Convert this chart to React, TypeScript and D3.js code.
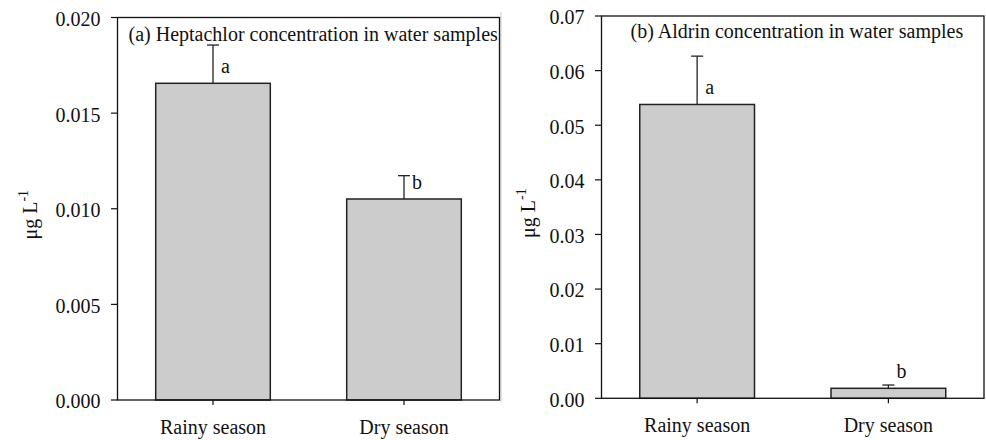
import React from 'react';
import * as d3 from 'd3';

// seasons on the x axis, shared by both panels
const seasons = ['Rainy season', 'Dry season'];

// (a) heptachlor, ug/L
const heptachlorMean = [0.01656, 0.01051];
const heptachlorErr = [0.00200, 0.00122];
const heptachlorLetters = ['a', 'b'];
const heptachlorTicks = [0, 0.005, 0.01, 0.015, 0.02];

// (b) aldrin, ug/L
const aldrinMean = [0.0538, 0.00183];
const aldrinErr = [0.00885, 0.0006];
const aldrinLetters = ['a', 'b'];
const aldrinTicks = [0, 0.01, 0.02, 0.03, 0.04, 0.05, 0.06, 0.07];

const FONT = '"Liberation Serif", "Times New Roman", serif';
const INK = '#111';

type PanelProps = {
  left: number;
  right: number;
  top: number;
  bottom: number;
  title: string;
  titleDx: number;
  titleY: number;
  means: number[];
  errs: number[];
  letters: string[];
  ticks: number[];
  fmt: string;
  yLabelX: number;
};

function Panel(p: PanelProps) {
  const x = d3.scaleBand<string>()
    .domain(seasons)
    .range([p.left, p.right])
    .paddingInner(0.4)
    .paddingOuter(0.2);

  const y = d3.scaleLinear()
    .domain([0, p.ticks[p.ticks.length - 1]])
    .range([p.bottom, p.top]);

  const fmt = d3.format(p.fmt);
  const bw = x.bandwidth();
  const midY = (p.top + p.bottom) / 2 + 6;

  return (
    <g fontFamily={FONT} fill={INK}>
      {/* bars */}
      {seasons.map((s, i) => (
        <rect
          key={s}
          x={x(s)}
          y={y(p.means[i])}
          width={bw}
          height={y(0) - y(p.means[i])}
          fill="#cccccc"
          stroke="#222"
          strokeWidth={1.5}
        />
      ))}

      {/* error bars, upper only */}
      {seasons.map((s, i) => {
        const cx = (x(s) as number) + bw / 2;
        const yTop = y(p.means[i] + p.errs[i]);
        return (
          <g key={s} stroke="#222" strokeWidth={1.3}>
            <line x1={cx} x2={cx} y1={y(p.means[i])} y2={yTop} />
            <line x1={cx - 6} x2={cx + 6} y1={yTop} y2={yTop} />
          </g>
        );
      })}

      {/* significance letters */}
      {seasons.map((s, i) => (
        <text
          key={s}
          x={(x(s) as number) + bw / 2 + 8}
          y={y(p.means[i]) - 10}
          fontSize={20}
        >
          {p.letters[i]}
        </text>
      ))}

      {/* frame */}
      <rect
        x={p.left}
        y={p.top}
        width={p.right - p.left}
        height={p.bottom - p.top}
        fill="none"
        stroke="#111"
        strokeWidth={1.3}
      />

      {/* y ticks */}
      {p.ticks.map(t => (
        <g key={t}>
          <line x1={p.left - 6.5} x2={p.left} y1={y(t)} y2={y(t)} stroke="#111" strokeWidth={1.2} />
          <text x={p.left - 17} y={y(t)} dy="0.42em" textAnchor="end" fontSize={20}>
            {fmt(t)}
          </text>
        </g>
      ))}

      {/* x ticks */}
      {seasons.map(s => {
        const cx = (x(s) as number) + bw / 2;
        return (
          <g key={s}>
            <line x1={cx} x2={cx} y1={p.bottom} y2={p.bottom + 5} stroke="#111" strokeWidth={1.2} />
            <text x={cx} y={p.bottom + 34} textAnchor="middle" fontSize={20}>
              {s}
            </text>
          </g>
        );
      })}

      {/* title */}
      <text x={p.left + p.titleDx} y={p.titleY} fontSize={20}>
        {p.title}
      </text>

      {/* y label */}
      <text
        transform={`translate(${p.yLabelX},${midY}) rotate(-90)`}
        textAnchor="middle"
        fontSize={20}
      >
        μg L<tspan fontSize={14} dy={-9}>-1</tspan>
      </text>
    </g>
  );
}

export default function App() {
  return (
    <svg width={986} height={440} style={{ display: 'block', position: 'absolute', left: 0, top: 0 }}>
      <rect width={986} height={440} fill="#fff" />
      <line x1={501} x2={501} y1={12} y2={402} stroke="#ddd" strokeWidth={1.5} />
      <Panel
        left={117.5}
        right={499.5}
        top={17.5}
        bottom={400}
        title="(a) Heptachlor concentration in water samples"
        titleDx={11}
        titleY={41}
        means={heptachlorMean}
        errs={heptachlorErr}
        letters={heptachlorLetters}
        ticks={heptachlorTicks}
        fmt=".3f"
        yLabelX={37}
      />
      <Panel
        left={601.5}
        right={984}
        top={16}
        bottom={398.3}
        title="(b) Aldrin concentration in water samples"
        titleDx={29}
        titleY={37.5}
        means={aldrinMean}
        errs={aldrinErr}
        letters={aldrinLetters}
        ticks={aldrinTicks}
        fmt=".2f"
        yLabelX={535}
      />
    </svg>
  );
}
